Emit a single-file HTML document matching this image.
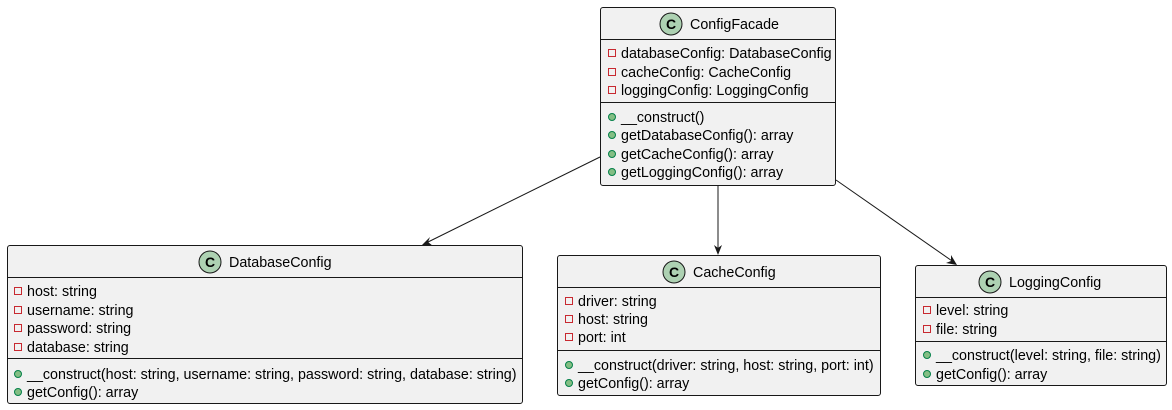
<!DOCTYPE html>
<html><head><meta charset="utf-8"><style>
html,body{margin:0;padding:0;background:#fff;width:1172px;height:410px;overflow:hidden}
text{font-family:"Liberation Sans",sans-serif;font-size:14.3px;fill:#000}
</style></head><body>
<svg width="1172" height="410" viewBox="0 0 1172 410" xmlns="http://www.w3.org/2000/svg">
<defs>
<g id="ci"><circle r="11" fill="#ADD1B2" stroke="#181818" stroke-width="1"/><text x="0" y="5" text-anchor="middle" style="font-weight:bold;font-size:14px">C</text></g>
<g id="pr"><rect x="-3.5" y="-3.5" width="7" height="7" fill="none" stroke="#C82930" stroke-width="1"/></g>
<g id="pu"><circle r="3.5" fill="#84BE84" stroke="#038048" stroke-width="1"/></g>
</defs>
<g stroke="#181818" stroke-width="1" fill="none">
<line x1="600" y1="157" x2="424" y2="244"/>
<line x1="718" y1="185" x2="718" y2="253"/>
<line x1="836" y1="180" x2="955" y2="263"/>
</g>
<g fill="#181818">
<polygon points="422,245 430,237 428,242 433,246"/>
<polygon points="718,255 714,245 718,248 722,245"/>
<polygon points="957,265 946,263 951,261 951,255"/>
</g>
<!-- ConfigFacade -->
<rect x="600.5" y="7.5" width="235" height="178" rx="2.5" fill="#F1F1F1" stroke="#181818"/>
<line x1="600" y1="39.5" x2="836" y2="39.5" stroke="#181818"/>
<line x1="600" y1="102.5" x2="836" y2="102.5" stroke="#181818"/>
<use href="#ci" x="671" y="24"/>
<text x="690" y="29">ConfigFacade</text>
<use href="#pr" x="612" y="53"/><text x="621" y="58">databaseConfig: DatabaseConfig</text>
<use href="#pr" x="612" y="72"/><text x="621" y="77">cacheConfig: CacheConfig</text>
<use href="#pr" x="612" y="90"/><text x="621" y="95">loggingConfig: LoggingConfig</text>
<use href="#pu" x="612" y="117"/><text x="621" y="122">__construct()</text>
<use href="#pu" x="612" y="135"/><text x="621" y="140">getDatabaseConfig(): array</text>
<use href="#pu" x="612" y="154"/><text x="621" y="159">getCacheConfig(): array</text>
<use href="#pu" x="612" y="172"/><text x="621" y="177">getLoggingConfig(): array</text>
<!-- DatabaseConfig -->
<rect x="7.5" y="245.5" width="515" height="158" rx="2.5" fill="#F1F1F1" stroke="#181818"/>
<line x1="7" y1="277.5" x2="523" y2="277.5" stroke="#181818"/>
<line x1="7" y1="358.5" x2="523" y2="358.5" stroke="#181818"/>
<use href="#ci" x="210" y="262"/>
<text x="229" y="267">DatabaseConfig</text>
<use href="#pr" x="18" y="291"/><text x="27" y="296">host: string</text>
<use href="#pr" x="18" y="310"/><text x="27" y="315">username: string</text>
<use href="#pr" x="18" y="328"/><text x="27" y="333">password: string</text>
<use href="#pr" x="18" y="347"/><text x="27" y="352">database: string</text>
<use href="#pu" x="18" y="374"/><text x="27" y="379">__construct(host: string, username: string, password: string, database: string)</text>
<use href="#pu" x="18" y="392"/><text x="27" y="397">getConfig(): array</text>
<!-- CacheConfig -->
<rect x="557.5" y="255.5" width="323" height="140" rx="2.5" fill="#F1F1F1" stroke="#181818"/>
<line x1="557" y1="287.5" x2="881" y2="287.5" stroke="#181818"/>
<line x1="557" y1="350.5" x2="881" y2="350.5" stroke="#181818"/>
<use href="#ci" x="674" y="272"/>
<text x="693" y="277">CacheConfig</text>
<use href="#pr" x="569" y="301"/><text x="578" y="306">driver: string</text>
<use href="#pr" x="569" y="319"/><text x="578" y="324">host: string</text>
<use href="#pr" x="569" y="337"/><text x="578" y="342">port: int</text>
<use href="#pu" x="569" y="365"/><text x="578" y="370">__construct(driver: string, host: string, port: int)</text>
<use href="#pu" x="569" y="383"/><text x="578" y="388">getConfig(): array</text>
<!-- LoggingConfig -->
<rect x="915.5" y="265.5" width="251" height="120" rx="2.5" fill="#F1F1F1" stroke="#181818"/>
<line x1="915" y1="297.5" x2="1167" y2="297.5" stroke="#181818"/>
<line x1="915" y1="341.5" x2="1167" y2="341.5" stroke="#181818"/>
<use href="#ci" x="990" y="282"/>
<text x="1009" y="287">LoggingConfig</text>
<use href="#pr" x="927" y="310"/><text x="936" y="315">level: string</text>
<use href="#pr" x="927" y="329"/><text x="936" y="334">file: string</text>
<use href="#pu" x="927" y="355"/><text x="936" y="360">__construct(level: string, file: string)</text>
<use href="#pu" x="927" y="374"/><text x="936" y="379">getConfig(): array</text>
</svg>
</body></html>
